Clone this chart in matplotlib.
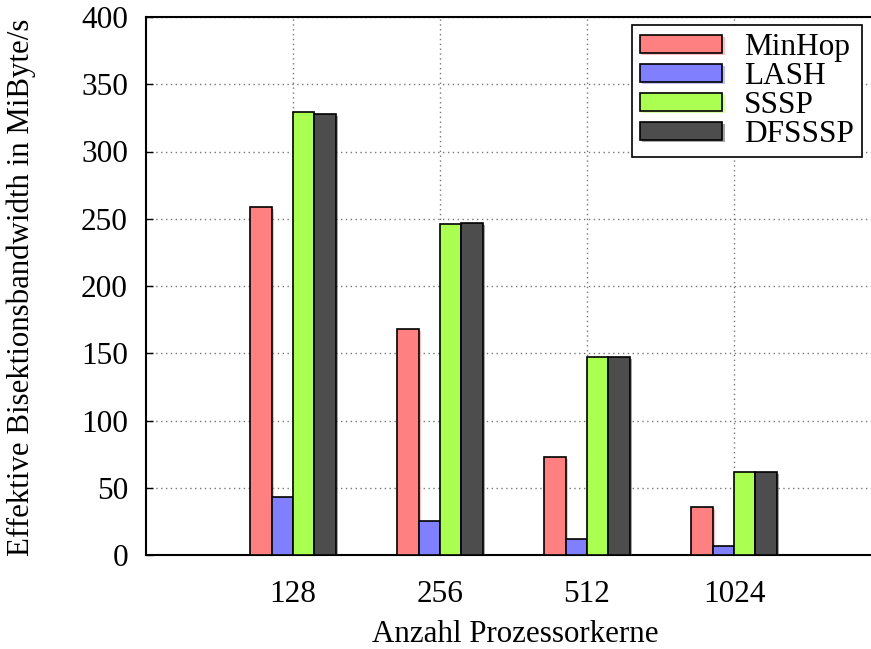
import matplotlib.pyplot as plt
import matplotlib.patheffects as pe
import numpy as np

# Effective bisection bandwidth per routing algorithm
cores = ['128', '256', '512', '1024']
minhop = [259, 168, 73, 36]
lash = [43, 25, 12, 7]
sssp = [329, 246, 147, 62]
dfsssp = [328, 247, 147, 62]

series = [('MinHop', minhop, '#ff8080'),
          ('LASH', lash, '#8080ff'),
          ('SSSP', sssp, '#aaff50'),
          ('DFSSSP', dfsssp, '#4d4d4d')]

plt.rcParams['font.family'] = 'Liberation Serif'

fig = plt.figure(figsize=(8.71, 6.49), dpi=100)
ax = fig.add_axes([146 / 871, 1 - 555 / 649, 725 / 871, (555 - 17) / 649])

x = np.arange(1, len(cores) + 1)
w = 0.146
for i, (name, vals, col) in enumerate(series):
    shadow = [pe.SimplePatchShadow(offset=(1.5, -1.5), shadow_rgbFace=col, alpha=0.5), pe.Normal()]
    bars = ax.bar(x + (i - 1.5) * w, vals, w, color=col, edgecolor='black',
                  linewidth=1.2, label=name, zorder=3)
    for b in bars:
        b.set_path_effects(shadow)

ax.set_xlim(0, 725 / 147)
ax.set_ylim(0, 400)
ax.set_xticks(x)
ax.set_xticklabels(cores)
ax.set_yticks(range(0, 401, 50))
ax.tick_params(axis='both', direction='in', labelsize=22.5, length=5, width=1)
ax.tick_params(axis='x', length=0, pad=18)
ax.tick_params(axis='y', pad=13)

ax.grid(True, linestyle=(0, (1, 2.5)), color='#777777', linewidth=1, zorder=0)
ax.spines['right'].set_visible(False)
for s in ['left', 'bottom', 'top']:
    ax.spines[s].set_linewidth(1.5)

ax.set_xlabel('Anzahl Prozessorkerne', fontsize=22.3)
ax.xaxis.set_label_coords((515 - 146) / 725, -(620 - 555) / 538)
ax.set_ylabel('Effektive Bisektionsbandwidth in MiByte/s', fontsize=22.2)
ax.yaxis.set_label_coords(-(146 - 36) / 725, (555 - 287) / 538)

leg = ax.legend(loc='upper right', bbox_to_anchor=((862 - 146) / 725, (555 - 25) / 538),
                fontsize=22.5, frameon=True, fancybox=False, edgecolor='black',
                framealpha=1, handlelength=2.65, handleheight=0.5, handletextpad=0.7,
                labelspacing=0.0, borderpad=0.25, borderaxespad=0)
leg.get_frame().set_linewidth(1.2)
leg.set_zorder(5)

fig.savefig('out.png', dpi=100)
